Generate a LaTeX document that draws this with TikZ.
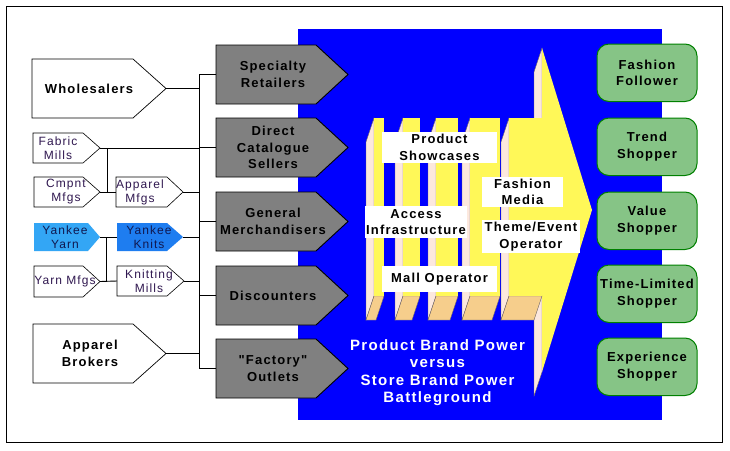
\documentclass[tikz,border=0pt]{standalone}
\usepackage{fontspec}
\setmainfont{Liberation Sans}[LetterSpace=9, Ligatures=TeXOff]
\definecolor{graycol}{RGB}{128,128,128}
\definecolor{bluecol}{RGB}{0,0,255}
\definecolor{yelcol}{RGB}{255,248,88}
\definecolor{pinkcol}{RGB}{252,232,222}
\definecolor{tancol}{RGB}{246,206,140}
\definecolor{edgecol}{RGB}{110,100,100}
\definecolor{greenfill}{RGB}{134,196,134}
\definecolor{greenline}{RGB}{0,128,0}
\definecolor{yarncol}{RGB}{51,166,245}
\definecolor{knitcol}{RGB}{30,125,240}
\definecolor{smalltxt}{RGB}{48,24,80}
\definecolor{navytxt}{RGB}{16,24,80}
\newcommand\myfB{\fontsize{13}{16.5}\selectfont\bfseries}
\newcommand\myfS{\fontsize{12}{14}\selectfont}
\newcommand\myfC{\fontsize{15}{17.5}\selectfont\bfseries}
% #1 name #2 style #3 left x #4 top y #5 rect right x #6 tip x #7 bottom y #8 text centre x #9 text
\newcommand\penta[9]{%
  \path[#2] (#3,#4) -- (#5,#4) -- (#6,{(#4+#7)/2}) -- (#5,#7) -- (#3,#7) -- cycle;
  \node[#2-t] (#1) at (#8,{(#4+#7)/2}) {#9};
  \coordinate (#1-tip) at (#6,{(#4+#7)/2});
  \coordinate (#1-in) at (#3,{(#4+#7)/2});
}
% block of the comb: #1 left x, #2 right x
\newcommand\combblock[2]{%
  \filldraw[fill=pinkcol, draw=edgecol, line width=0.4pt] (#1,118) -- (#1,296) -- ({#1-8},320) -- ({#1-8},142) -- cycle;
  \filldraw[fill=tancol, draw=edgecol, line width=0.4pt] (#1,296) -- (#2,296) -- ({#2-8},320) -- ({#1-8},320) -- cycle;
  \fill[yelcol] (#1,118) rectangle (#2,296);
}
\begin{document}
\begin{tikzpicture}[x=1pt,y=-1pt,
  every node/.style={inner sep=0pt, align=center},
  gbox/.style={fill=graycol, draw=black, line width=0.9pt},
  gbox-t/.style={font=\myfB, text=black},
  wbox/.style={fill=white, draw=black, line width=0.7pt},
  wbox-t/.style={font=\myfB, text=black},
  sbox/.style={fill=white, draw=black, line width=0.6pt},
  sbox-t/.style={font=\myfS, text=smalltxt},
  ybox/.style={fill=yarncol},
  ybox-t/.style={font=\myfS, text=navytxt},
  kbox/.style={fill=knitcol},
  kbox-t/.style={font=\myfS, text=navytxt},
  shopper/.style={fill=greenfill, draw=greenline, line width=1pt, rounded corners=12pt,
    minimum width=100pt, minimum height=57.5pt, font=\myfB, text=black},
  lbl/.style={fill=white, font=\myfB, text=black},
  conn/.style={draw=black, line width=0.9pt},
]
\useasboundingbox (0,0) rectangle (730,450);
\fill[white] (0,0) rectangle (730,450);
\draw[line width=1pt] (6,6) rectangle (722,442);
\fill[bluecol] (298,29) rectangle (662,420);

% big arrow
\filldraw[fill=pinkcol, draw=edgecol, line width=0.4pt] (542,48) -- (542,372) -- (534,396) -- (534,72) -- cycle;
\fill[yelcol] (542,48) -- (592,210) -- (542,372) -- cycle;
% comb blocks
\combblock{374}{384}
\combblock{403}{420}
\combblock{436}{458}
\combblock{470}{500}
\combblock{509}{542}

% labels on the structure
\node[lbl, minimum width=115pt, minimum height=31pt] (ps) at (439.5,147.5) {Product\\Showcases};
\node[lbl, minimum width=102pt, minimum height=32pt] (ai) at (416,222) {Access\\Infrastructure};
\node[lbl, minimum width=81pt, minimum height=30pt] (fmd) at (522.5,192) {Fashion\\Media};
\node[lbl, minimum width=98pt, minimum height=33pt] (teo) at (531,236.5) {Theme/Event\\Operator};
\node[lbl, minimum width=115pt, minimum height=26pt] (mo) at (439.5,279) {Mall Operator};

\node[font=\myfC, text=white] (bt) at (437.5,372.5) {Product Brand Power\\versus\\Store Brand Power\\Battleground};

% retailer boxes
\penta{g1}{gbox}{216}{45}{316}{348}{104}{273}{Specialty\\Retailers}
\penta{g2}{gbox}{216}{118}{316}{348}{177}{273}{Direct\\Catalogue\\Sellers}
\penta{g3}{gbox}{216}{192}{316}{348}{251}{273}{General\\Merchandisers}
\penta{g4}{gbox}{216}{266}{316}{348}{325}{273}{Discounters}
\penta{g5}{gbox}{216}{339}{316}{348}{398}{273}{"Factory"\\Outlets}

% supplier boxes
\penta{wh}{wbox}{32}{59}{133}{166}{118}{89}{Wholesalers}
\penta{fm}{sbox}{33}{133}{83}{100}{163}{58}{Fabric\\Mills}
\penta{cm}{sbox}{34}{177}{83}{100}{207}{66}{Cmpnt\\Mfgs}
\penta{am}{sbox}{116}{177}{167}{183}{207}{140}{Apparel\\Mfgs}
\penta{yy}{ybox}{34}{223}{88}{100}{251}{65}{Yankee\\Yarn}
\penta{yk}{kbox}{117}{223}{167}{183}{251}{149}{Yankee\\Knits}
\penta{ym}{sbox}{34}{266}{83}{100}{297}{65}{Yarn Mfgs}
\penta{km}{sbox}{117}{266}{167}{184}{296}{149}{Knitting\\Mills}
\penta{ab}{wbox}{33}{324}{133}{166}{383}{90}{Apparel\\Brokers}

% shopper boxes
\node[shopper] (s1) at (647,72.75) {Fashion\\Follower};
\node[shopper] (s2) at (647,146.75) {Trend\\Shopper};
\node[shopper] (s3) at (647,220.75) {Value\\Shopper};
\node[shopper] (s4) at (647,293.75) {Time-Limited\\Shopper};
\node[shopper] (s5) at (647,366.75) {Experience\\Shopper};

% connectors
\coordinate (bus) at (199,0);
\coordinate (j1) at (107,0);
\coordinate (j2) at (106,0);
\draw[conn] (g1-in -| bus) -- (g5-in -| bus);
\foreach \g in {g1,g2,g3,g4,g5} \draw[conn] (\g-in) -- (\g-in -| bus);
\foreach \s in {wh,fm,am,yk,km,ab} \draw[conn] (\s-tip) -- (\s-tip -| bus);
\draw[conn] (fm-tip -| j1) -- (cm-tip -| j1);
\draw[conn] (cm-tip) -- (am-in);
\draw[conn] (yy-tip) -- (yk-in);
\draw[conn] (yy-tip -| j2) -- (ym-tip -| j2);
\draw[conn] (ym-tip) -- (km-in);
\end{tikzpicture}
\end{document}
